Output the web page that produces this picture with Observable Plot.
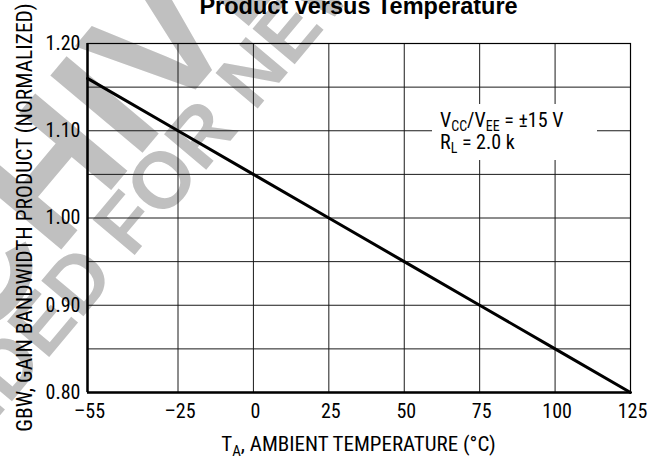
<!DOCTYPE html>
<html>
<head>
<meta charset="utf-8">
<script src="https://cdn.jsdelivr.net/npm/d3@7"></script>
<script src="https://cdn.jsdelivr.net/npm/@observablehq/plot@0.6"></script>
<style>
  html, body { margin: 0; padding: 0; background: #fff; }
  #chart { width: 670px; height: 458px; overflow: hidden; }
</style>
</head>
<body>
<div id="chart"></div>
<script>
const temps = [-55, -25, 0, 25, 50, 75, 100, 125];
const gbw = [1.16, 1.10, 1.05, 1.00, 0.95, 0.90, 0.85, 0.80];
const xTicks = [-55, -25, 0, 25, 50, 75, 100, 125];
const yTicks = [0.80, 0.90, 1.00, 1.10, 1.20];
const yGrid = [0.80, 0.85, 0.90, 0.95, 1.00, 1.05, 1.10, 1.15, 1.20];
const titleText = "Product versus Temperature";
const yLabel = "GBW, GAIN BANDWIDTH PRODUCT (NORMALIZED)";
const watermark1 = "ARCHIVED";
const watermark2 = "NOT RECOMMENDED FOR NEW DESIGN";

const narrow = "'Liberation Sans Narrow', 'Arial Narrow', 'Roboto Condensed', 'Liberation Sans', Arial, sans-serif";
const data = temps.map((t, i) => ({t, g: gbw[i]}));

const plot = Plot.plot({
  width: 670,
  height: 458,
  marginLeft: 87,
  marginRight: 40,
  marginTop: 43,
  marginBottom: 66,
  style: {fontFamily: narrow, fontSize: "20px", color: "#000", background: "#fff", overflow: "visible"},
  x: {domain: [-55, 125]},
  y: {domain: [0.8, 1.2]},
  marks: [
    Plot.ruleX(xTicks, {stroke: "#1a1a1a", strokeWidth: 1}),
    Plot.ruleY(yGrid, {stroke: "#1a1a1a", strokeWidth: 1}),
    Plot.frame({stroke: "#000", strokeWidth: 1.2}),
    Plot.ruleX([-55], {stroke: "#000", strokeWidth: 2.5}),
    Plot.ruleY([0.8], {stroke: "#000", strokeWidth: 2.5}),
    Plot.axisX({ticks: xTicks, tickSize: 0, tickPadding: 11, label: null, dx: 2,
      tickFormat: d => d < 0 ? "\u2013" + Math.abs(d) : String(d), fontSize: 20}),
    Plot.axisY({ticks: yTicks, tickSize: 0, tickPadding: 7, label: null,
      tickFormat: d => d.toFixed(2), fontSize: 20}),
    Plot.line(data, {x: "t", y: "g", stroke: "#000", strokeWidth: 3})
  ]
});

document.getElementById("chart").appendChild(plot);
const svg = d3.select(plot);
const xs = plot.scale("x"), ys = plot.scale("y");
const x0 = xs.range[0], x1 = xs.range[1];
const cx = (x0 + x1) / 2;
const yTop = ys.apply(1.2), yBot = ys.apply(0.8);

// watermark behind everything
const wm = svg.insert("g", "g").attr("fill", "#c0c0c0")
  .attr("font-family", "'Liberation Sans', Arial, sans-serif").attr("font-weight", "bold")
  .attr("text-anchor", "start");
wm.append("text").attr("transform", "translate(-190,549) rotate(-50)")
  .attr("font-size", 175).text(watermark1);
wm.append("text").attr("transform", "translate(-420,916) rotate(-50)")
  .attr("font-size", 80).text(watermark2);

// title
svg.append("text").attr("x", cx).attr("y", 14).attr("text-anchor", "middle")
  .attr("font-family", "'Liberation Sans', Arial, sans-serif").attr("font-weight", "bold")
  .attr("font-size", 23.5).attr("fill", "#000").text(titleText);

// y label
svg.append("text").attr("transform", `translate(32,${(yTop + yBot) / 2}) rotate(-90)`)
  .attr("text-anchor", "middle").attr("font-family", narrow).attr("font-size", 21.5)
  .attr("fill", "#000").text(yLabel);

// x label with subscript
const xl = svg.append("text").attr("x", cx).attr("y", 451).attr("text-anchor", "middle")
  .attr("font-family", narrow).attr("font-size", 21).attr("fill", "#000");
xl.append("tspan").text("T");
xl.append("tspan").attr("font-size", 15).attr("dy", 5).text("A");
xl.append("tspan").attr("dy", -5).text(", AMBIENT TEMPERATURE (\u00B0C)");

// legend box
svg.append("rect").attr("x", 432).attr("y", 104).attr("width", 165).attr("height", 56).attr("fill", "#fff");
const leg = svg.append("g").attr("text-anchor", "start").attr("font-family", narrow)
  .attr("font-size", 20).attr("fill", "#000");
const l1 = leg.append("text").attr("x", 440).attr("y", 127);
l1.append("tspan").text("V");
l1.append("tspan").attr("font-size", 14).attr("dy", 4).text("CC");
l1.append("tspan").attr("dy", -4).text("/V");
l1.append("tspan").attr("font-size", 14).attr("dy", 4).text("EE");
l1.append("tspan").attr("dy", -4).text(" = \u00B115 V");
const l2 = leg.append("text").attr("x", 440).attr("y", 149);
l2.append("tspan").text("R");
l2.append("tspan").attr("font-size", 14).attr("dy", 4).text("L");
l2.append("tspan").attr("dy", -4).text(" = 2.0 k");
</script>
</body>
</html>
